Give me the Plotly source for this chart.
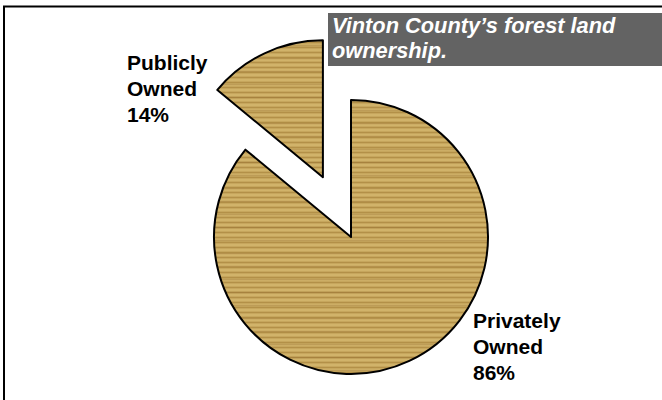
import math
import plotly.graph_objects as go

# ---- data ----
categories = ["Privately Owned", "Publicly Owned"]
shares = [86, 14]
label_words = [["Privately", "Owned"], ["Publicly", "Owned"]]
title_lines = ["Vinton County\u2019s forest land", "ownership."]

# ---- styling / layout constants ----
W, H = 662, 400
R = 137                     # pie radius (px)
MAIN_C = (351, 237)         # centre of the main pie (px, from top-left)
PULL_PX = 66                # how far the small slice is pulled out (px)
WOOD_BG = "#D1B36A"
WOOD_FG = "#B39048"
GRAIN = "rgba(135,95,35,0.55)"
CLEAR = "rgba(0,0,0,0)"
FONT = "Liberation Sans"
FS = 21

SMALL = 1                   # index of the exploded slice
BIG = 0


def dom(cx, cy):
    return dict(x=[(cx - R) / W, (cx + R) / W],
                y=[1 - (cy + R) / H, 1 - (cy - R) / H])


total = sum(shares)
# clockwise from 12 o'clock: the small slice is the last one, just left of 12
mid_angle = math.radians(shares[SMALL] / total * 360 / 2)
EXP_C = (MAIN_C[0] - PULL_PX * math.sin(mid_angle),
         MAIN_C[1] - PULL_PX * math.cos(mid_angle))

fig = go.Figure()


def pie_layers(visible_idx, center):
    n = len(shares)
    cols = [WOOD_BG if i == visible_idx else CLEAR for i in range(n)]
    shp = ["-" if i == visible_idx else "" for i in range(n)]
    widths = [2 if i == visible_idx else 0 for i in range(n)]
    common = dict(labels=categories, values=shares, sort=False,
                  direction="clockwise", rotation=0, textinfo="none",
                  hoverinfo="label+percent", showlegend=False,
                  domain=dom(*center))
    base = go.Pie(**common, marker=dict(
        colors=cols, line=dict(width=0),
        pattern=dict(shape=shp, bgcolor=cols, fgcolor=WOOD_FG,
                     size=5, solidity=0.35, fillmode="replace")))
    grain = go.Pie(**common, marker=dict(
        colors=[CLEAR] * n, line=dict(color="black", width=widths),
        pattern=dict(shape=shp, bgcolor=CLEAR, fgcolor=GRAIN,
                     size=13, solidity=0.12, fillmode="overlay")))
    return [base, grain]


for tr in pie_layers(BIG, MAIN_C) + pie_layers(SMALL, EXP_C):
    fig.add_trace(tr)

annotations = []


def add_lines(lines, left, first_baseline, spacing, size, color, style="normal"):
    for k, t in enumerate(lines):
        base = first_baseline + k * spacing
        annotations.append(dict(
            text=t, x=left / W, y=1 - (base - 0.35 * size) / H,
            xref="paper", yref="paper", xanchor="left", yanchor="middle",
            showarrow=False, borderpad=0, borderwidth=0, align="left",
            font=dict(family=FONT, size=size, color=color, weight="bold", style=style)))


pct = [f"{v}%" for v in shares]
add_lines(label_words[SMALL] + [pct[SMALL]], 127, 70, 25.7, FS, "black")
add_lines(label_words[BIG] + [pct[BIG]], 473, 328, 25.7, FS, "black")
add_lines(title_lines, 332, 33, 25.5, 21.8, "white", style="italic")

shapes = [
    # title box
    dict(type="rect", xref="paper", yref="paper",
         x0=328 / W, x1=1.05, y0=1 - 66 / H, y1=1 - 13 / H,
         fillcolor="#636363", line=dict(width=0), layer="below"),
    # outer frame
    dict(type="rect", xref="paper", yref="paper",
         x0=4 / W, x1=1.05, y0=-0.05, y1=1 - 6.5 / H,
         fillcolor=CLEAR, line=dict(color="black", width=2)),
]

fig.update_layout(
    width=W, height=H,
    margin=dict(l=0, r=0, t=0, b=0),
    paper_bgcolor="white", plot_bgcolor="white",
    annotations=annotations, shapes=shapes,
)

fig.write_html("out.html",
               config={"displayModeBar": False},
               post_script="document.body.style.margin='0';"
                           "document.body.style.overflow='hidden';")
